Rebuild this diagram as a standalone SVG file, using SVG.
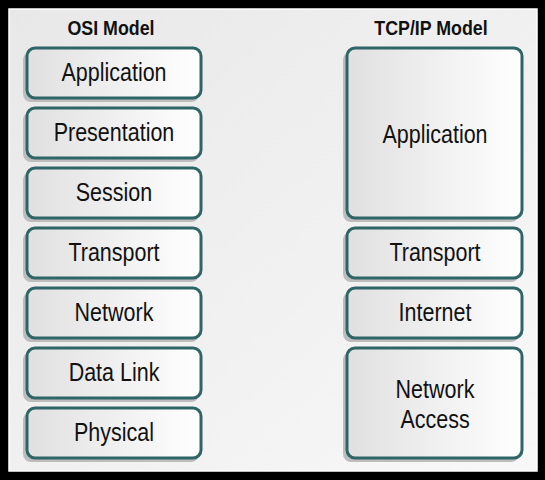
<svg xmlns="http://www.w3.org/2000/svg" width="545" height="480" viewBox="0 0 545 480">
<defs>
<linearGradient id="panel" x1="0" y1="0" x2="1" y2="1">
<stop offset="0" stop-color="#e8e8e8"/>
<stop offset="1" stop-color="#f8f8f8"/>
</linearGradient>
<linearGradient id="box" x1="0" y1="0" x2="1" y2="0">
<stop offset="0" stop-color="#e0e0e0"/>
<stop offset="1" stop-color="#ffffff"/>
</linearGradient>
</defs>
<style>
.shadow{fill:#bdbdbd}
.layer{fill:url(#box);stroke:#2f6565;stroke-width:3}
.lbl{font-family:"Liberation Sans",Arial,sans-serif;font-size:25px;fill:#111;text-anchor:middle}
.title{font-family:"Liberation Sans",Arial,sans-serif;font-size:20px;font-weight:bold;fill:#111;text-anchor:middle}
</style>
<rect x="0" y="0" width="545" height="480" fill="#000"/>
<rect x="9" y="9" width="528" height="462" fill="url(#panel)" stroke="#fff" stroke-width="1.5"/>
<text class="title" transform="translate(111,35) scale(0.89,1)">OSI Model</text>
<text class="title" transform="translate(431,35) scale(0.89,1)">TCP/IP Model</text>
<g id="osi-application"><rect class="shadow" x="23" y="52" width="176" height="50" rx="8"/><rect class="layer" x="27" y="48" width="174" height="50" rx="8"/><text class="lbl" transform="translate(114,81) scale(0.86,1)">Application</text></g>
<g id="osi-presentation"><rect class="shadow" x="23" y="112" width="176" height="50" rx="8"/><rect class="layer" x="27" y="108" width="174" height="50" rx="8"/><text class="lbl" transform="translate(114,141) scale(0.86,1)">Presentation</text></g>
<g id="osi-session"><rect class="shadow" x="23" y="172" width="176" height="50" rx="8"/><rect class="layer" x="27" y="168" width="174" height="50" rx="8"/><text class="lbl" transform="translate(114,201) scale(0.86,1)">Session</text></g>
<g id="osi-transport"><rect class="shadow" x="23" y="232" width="176" height="50" rx="8"/><rect class="layer" x="27" y="228" width="174" height="50" rx="8"/><text class="lbl" transform="translate(114,261) scale(0.86,1)">Transport</text></g>
<g id="osi-network"><rect class="shadow" x="23" y="292" width="176" height="50" rx="8"/><rect class="layer" x="27" y="288" width="174" height="50" rx="8"/><text class="lbl" transform="translate(114,321) scale(0.86,1)">Network</text></g>
<g id="osi-datalink"><rect class="shadow" x="23" y="352" width="176" height="50" rx="8"/><rect class="layer" x="27" y="348" width="174" height="50" rx="8"/><text class="lbl" transform="translate(114,381) scale(0.86,1)">Data Link</text></g>
<g id="osi-physical"><rect class="shadow" x="23" y="412" width="176" height="50" rx="8"/><rect class="layer" x="27" y="408" width="174" height="50" rx="8"/><text class="lbl" transform="translate(114,441) scale(0.86,1)">Physical</text></g>
<g id="tcp-application"><rect class="shadow" x="343" y="52" width="176" height="170" rx="8"/><rect class="layer" x="347" y="48" width="175" height="170" rx="8"/><text class="lbl" transform="translate(435,143) scale(0.86,1)">Application</text></g>
<g id="tcp-transport"><rect class="shadow" x="343" y="232" width="176" height="50" rx="8"/><rect class="layer" x="347" y="228" width="175" height="50" rx="8"/><text class="lbl" transform="translate(435,261) scale(0.86,1)">Transport</text></g>
<g id="tcp-internet"><rect class="shadow" x="343" y="292" width="176" height="50" rx="8"/><rect class="layer" x="347" y="288" width="175" height="50" rx="8"/><text class="lbl" transform="translate(435,321) scale(0.86,1)">Internet</text></g>
<g id="tcp-networkaccess"><rect class="shadow" x="343" y="352" width="176" height="110" rx="8"/><rect class="layer" x="347" y="348" width="175" height="110" rx="8"/><text class="lbl" transform="translate(435,398) scale(0.86,1)">Network</text><text class="lbl" transform="translate(435,428) scale(0.86,1)">Access</text></g>
<g id="connectors"/>
</svg>
